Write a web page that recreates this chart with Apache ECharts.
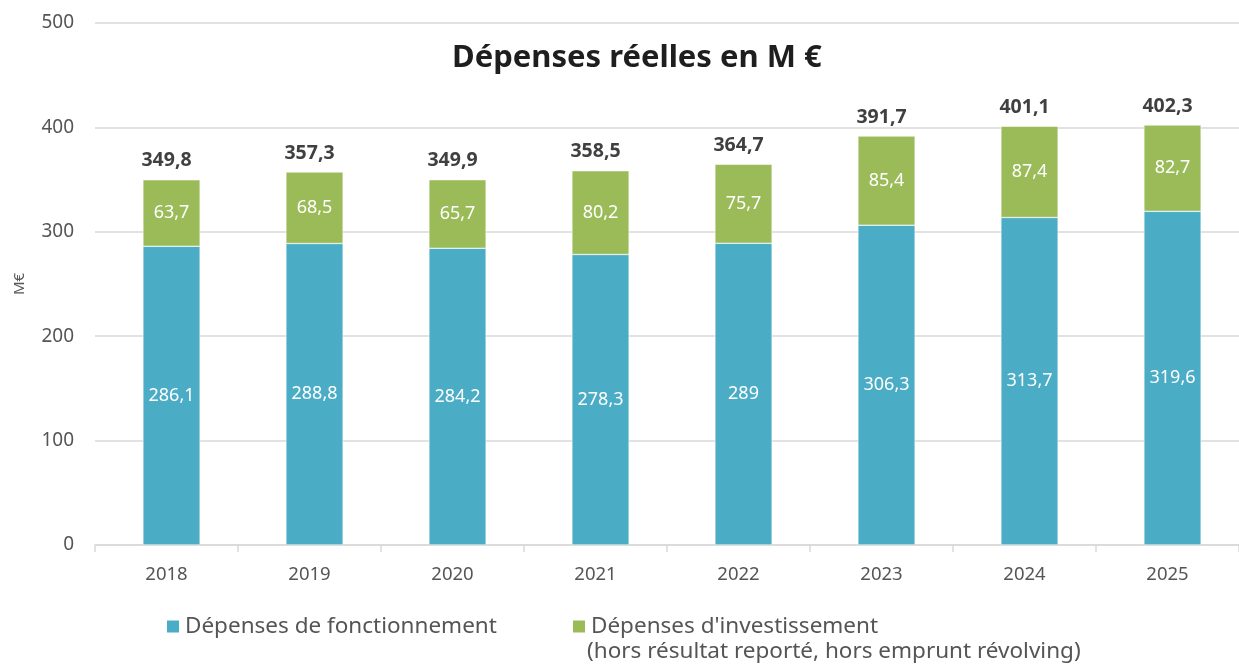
<!DOCTYPE html>
<html>
<head>
<meta charset="UTF-8">
<title>Dépenses réelles</title>
<script src="https://cdn.jsdelivr.net/npm/echarts@6/dist/echarts.min.js"></script>
<style>
html, body { margin:0; padding:0; background:#fff; }
#chart { width:1239px; height:667px; }
</style>
</head>
<body>
<div id="chart"></div>
<script type="text/javascript">
// données
var annees = ['2018', '2019', '2020', '2021', '2022', '2023', '2024', '2025'];
var fonctionnement = [286.1, 288.8, 284.2, 278.3, 289, 306.3, 313.7, 319.6];
var investissement = [63.7, 68.5, 65.7, 80.2, 75.7, 85.4, 87.4, 82.7];
var totaux = [349.8, 357.3, 349.9, 358.5, 364.7, 391.7, 401.1, 402.3];

var police = '"Noto Sans", "Open Sans", sans-serif';

function virgule(v) {
	return String(v).replace('.', ',');
}

var legendeTexte = { fontFamily: police, fontSize: 22.5, color: '#555555' };

var chart = echarts.init(document.getElementById('chart'));
chart.setOption({
	animation: false,
	title: {
		text: 'Dépenses réelles en M €',
		left: 447,
		top: 38,
		textStyle: { fontFamily: police, fontSize: 31, fontWeight: 'bold', color: '#1e1e1e' }
	},
	grid: { left: 95, right: -8, top: 23, bottom: 122 },
	legend: [{
		left: 160,
		top: 610,
		itemWidth: 14,
		itemHeight: 14,
		icon: 'rect',
		textStyle: legendeTexte,
		data: ['Dépenses de fonctionnement']
	}, {
		left: 566,
		top: 610,
		itemWidth: 14,
		itemHeight: 14,
		icon: 'rect',
		textStyle: legendeTexte,
		data: ["Dépenses d'investissement"]
	}],
	graphic: [{
		type: 'text',
		left: 587,
		top: 640,
		style: {
			text: '(hors résultat reporté, hors emprunt révolving)',
			font: '22.5px ' + police,
			fill: '#555555'
		}
	}],
	xAxis: {
		type: 'category',
		data: annees,
		axisLine: { lineStyle: { color: '#d9d9d9', width: 1.5 } },
		axisTick: { show: true, length: 7, lineStyle: { color: '#d9d9d9', width: 1.5 } },
		axisLabel: { margin: 20, fontFamily: police, fontSize: 18.5, color: '#555555' }
	},
	yAxis: {
		type: 'value',
		min: 0,
		max: 500,
		interval: 100,
		name: 'M€',
		nameLocation: 'middle',
		nameGap: 68,
		nameTextStyle: { fontFamily: police, fontSize: 15, color: '#555555' },
		axisLine: { show: false },
		axisTick: { show: false },
		axisLabel: { margin: 21, fontFamily: police, fontSize: 19, color: '#555555' },
		splitLine: { lineStyle: { color: '#d9d9d9', width: 1.5 } }
	},
	series: [{
		name: 'Dépenses de fonctionnement',
		type: 'bar',
		stack: 'total',
		barWidth: '40%',
		data: fonctionnement,
		itemStyle: { color: '#4bacc6', borderColor: '#ffffff', borderWidth: 0.5 },
		label: {
			show: true,
			position: 'inside',
			fontFamily: police,
			fontSize: 18,
			color: '#ffffff',
			formatter: function (p) { return virgule(p.value); }
		}
	}, {
		name: "Dépenses d'investissement",
		type: 'bar',
		stack: 'total',
		data: investissement,
		itemStyle: { color: '#9bbb59', borderColor: '#ffffff', borderWidth: 0.5 },
		label: {
			show: true,
			position: 'inside',
			fontFamily: police,
			fontSize: 18,
			color: '#ffffff',
			formatter: function (p) { return virgule(p.value); }
		}
	}, {
		name: 'Total',
		type: 'bar',
		barGap: '-100%',
		data: totaux,
		silent: true,
		itemStyle: { color: 'rgba(0,0,0,0)' },
		label: {
			show: true,
			position: 'top',
			distance: 9,
			fontFamily: police,
			fontSize: 19.5,
			fontWeight: 'bold',
			color: '#404040',
			formatter: function (p) { return virgule(p.value); }
		}
	}]
});
</script>
</body>
</html>
